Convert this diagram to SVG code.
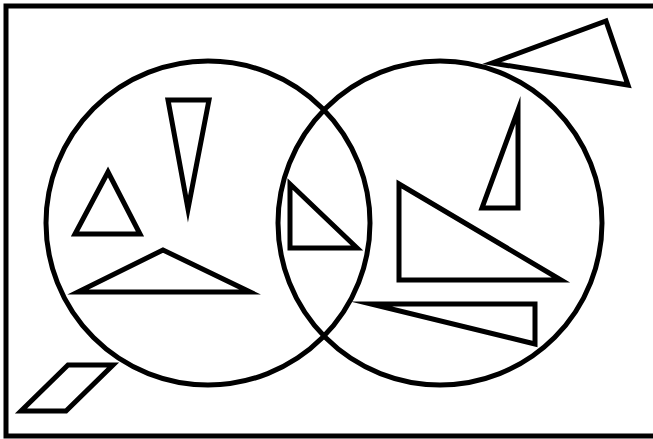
<svg xmlns="http://www.w3.org/2000/svg" width="653" height="439" viewBox="0 0 653 439">
<style>
.s{fill:none;stroke:#000;stroke-width:5;stroke-linejoin:miter;stroke-miterlimit:20}
</style>
<rect width="653" height="439" fill="#fff"/>
<rect class="s" x="6" y="6" width="660" height="430"/>
<circle class="s" cx="208" cy="223" r="162"/>
<circle class="s" cx="440" cy="223" r="162"/>
<polygon class="s" points="492,63 606,21 628,85"/>
<polygon class="s" points="108,172 75,234 140,234"/>
<polygon class="s" points="168,100 209,100 188,209"/>
<polygon class="s" points="163,250 78,292 250,292"/>
<polygon class="s" points="290,184 290,248 357,248"/>
<polygon class="s" points="399,184 399,280 561,280"/>
<polygon class="s" points="518,110 482,208 518,208"/>
<polygon class="s" points="371,304 535,304 535,344"/>
<polygon class="s" points="68,365 113,365 66,411 21,411"/>
</svg>
